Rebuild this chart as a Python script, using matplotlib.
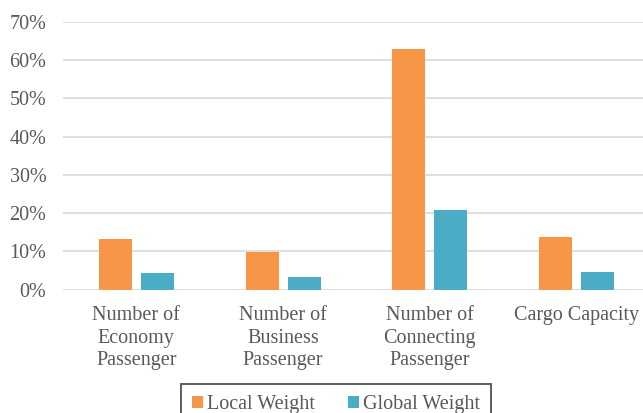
import matplotlib.pyplot as plt
import numpy as np

categories = ['Number of\nEconomy\nPassenger', 'Number of\nBusiness\nPassenger',
              'Number of\nConnecting\nPassenger', 'Cargo Capacity']
local_weight = [13.2, 9.9, 63.0, 13.7]
global_weight = [4.3, 3.3, 20.7, 4.5]
yticks = [0, 10, 20, 30, 40, 50, 60, 70]

plt.rcParams['font.family'] = ['Liberation Serif', 'DejaVu Serif']

fig = plt.figure(figsize=(6.43, 4.13), dpi=100)
# axes run a little past the right edge of the figure
ax = fig.add_axes([63 / 643, 0.299, 587 / 643, 0.648])

x = np.arange(len(categories))
w = 0.225
ax.bar(x - 0.143, local_weight, w, color='#F79646', label='Local Weight', zorder=3)
ax.bar(x + 0.143, global_weight, w, color='#4BACC6', label='Global Weight', zorder=3)

ax.set_xlim(-0.5, 3.5)
ax.set_ylim(0, 70)
ax.set_yticks(yticks)
ax.set_yticklabels([f'{v}%' for v in yticks])
ax.set_xticks(x)
ax.set_xticklabels(categories, linespacing=1.24, va='top')
ax.tick_params(axis='both', length=0, labelsize=14.5, labelcolor='#595959')
ax.tick_params(axis='y', pad=12)
ax.tick_params(axis='x', pad=12)
ax.grid(axis='y', color='#D9D9D9', linewidth=1.2, zorder=0)
for s in ax.spines.values():
    s.set_visible(False)

leg = fig.legend(loc='upper center', bbox_to_anchor=(336 / 643, 29 / 413), ncol=2,
                 fontsize=14.5, frameon=True, fancybox=False, edgecolor='#333333',
                 handlelength=0.55, handleheight=0.55, handletextpad=0.2,
                 columnspacing=1.6, borderpad=0.55, borderaxespad=0)
leg.get_frame().set_linewidth(1.4)
for t in leg.get_texts():
    t.set_color('#595959')

fig.savefig('out.png', dpi=100)
